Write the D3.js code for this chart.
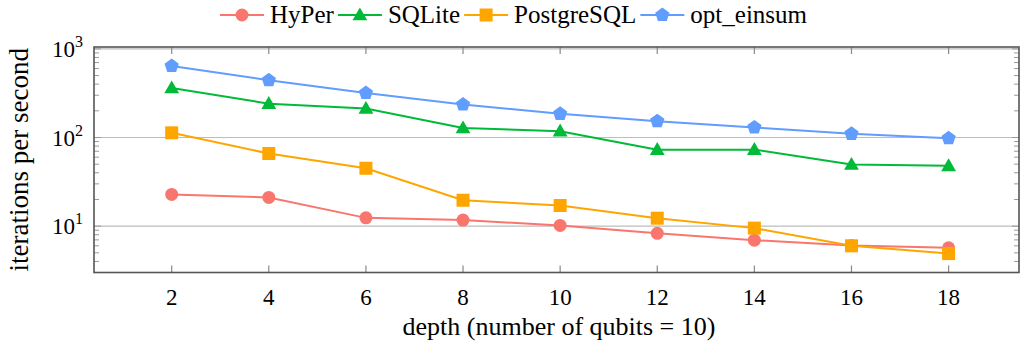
<!DOCTYPE html>
<html><head><meta charset="utf-8">
<script src="https://cdn.jsdelivr.net/npm/d3@7"></script>
<style>body{margin:0;background:#fff}svg text{font-family:"Liberation Serif","DejaVu Serif",serif;fill:#000}</style>
</head><body><svg id="c" width="1028" height="345"></svg>
<script>
const categories = [2, 4, 6, 8, 10, 12, 14, 16, 18];
const seriesNames = ["HyPer", "SQLite", "PostgreSQL", "opt_einsum"];
const hyper = [22.8, 21.1, 12.4, 11.7, 10.2, 8.3, 6.95, 6.05, 5.7];
const sqlite = [362, 241, 212, 128, 118, 73, 73, 49.7, 47.9];
const postgres = [113, 66, 45, 19.6, 17.1, 12.3, 9.5, 6.0, 4.9];
const optEinsum = [641, 443, 318, 236, 185, 153, 130, 110, 98];
const yTickExp = [1, 2, 3];
const xLabel = "depth (number of qubits = 10)";
const yLabel = "iterations per second";

const colors = ["#F8766D", "#00BA38", "#FFA500", "#619CFF"];
const shapes = ["circle", "triangle", "square", "pentagon"];
const allSeries = [hyper, sqlite, postgres, optEinsum];

const svg = d3.select("#c");
const m = {l: 94, r: 1019, t: 47, b: 272.5};
const x = d3.scaleLinear().domain([0.4, 19.45]).range([m.l, m.r]);
const y = d3.scaleLog().domain([3, 1050]).range([m.b, m.t]);

svg.append("g").selectAll("line").data(yTickExp).join("line")
  .attr("x1", m.l).attr("x2", m.r)
  .attr("y1", d => y(Math.pow(10, d))).attr("y2", d => y(Math.pow(10, d)))
  .attr("stroke", "#bdbdbd").attr("stroke-width", 1.2);

const minorU = [];
[1, 10, 100].forEach(b => { for (let k = 2; k <= 9; k++) { const v = b * k; if (v >= 3 && v <= 1050) minorU.push(v); } });
const mg = svg.append("g").attr("stroke", "#9a9a9a").attr("stroke-width", 1);
mg.selectAll("line.l").data(minorU).join("line").attr("class", "l")
  .attr("x1", m.l).attr("x2", m.l + 5).attr("y1", d => y(d)).attr("y2", d => y(d));
mg.selectAll("line.r").data(minorU).join("line").attr("class", "r")
  .attr("x1", m.r - 5).attr("x2", m.r).attr("y1", d => y(d)).attr("y2", d => y(d));
mg.selectAll("line.ml").data(yTickExp).join("line").attr("class", "ml")
  .attr("x1", m.l).attr("x2", m.l + 7).attr("y1", d => y(Math.pow(10, d))).attr("y2", d => y(Math.pow(10, d)));
mg.selectAll("line.mr").data(yTickExp).join("line").attr("class", "mr")
  .attr("x1", m.r - 7).attr("x2", m.r).attr("y1", d => y(Math.pow(10, d))).attr("y2", d => y(Math.pow(10, d)));

const xg = svg.append("g").attr("stroke", "#8a8a8a").attr("stroke-width", 1.2);
xg.selectAll("line.b").data(categories).join("line").attr("class", "b")
  .attr("x1", d => x(d)).attr("x2", d => x(d)).attr("y1", m.b).attr("y2", m.b - 7);
xg.selectAll("line.t").data(categories).join("line").attr("class", "t")
  .attr("x1", d => x(d)).attr("x2", d => x(d)).attr("y1", m.t).attr("y2", m.t + 7);

svg.append("rect").attr("x", m.l).attr("y", m.t).attr("width", m.r - m.l).attr("height", m.b - m.t)
  .attr("fill", "none").attr("stroke", "#555").attr("stroke-width", 1.6);

svg.append("g").selectAll("text").data(categories).join("text")
  .attr("x", d => x(d)).attr("y", 305).attr("text-anchor", "middle")
  .attr("font-size", 23).text(d => d);

const yt = svg.append("g").selectAll("text").data(yTickExp).join("text")
  .attr("x", 83).attr("y", d => y(Math.pow(10, d)) + 8).attr("text-anchor", "end").attr("font-size", 23);
yt.append("tspan").text("10");
yt.append("tspan").attr("dy", -10).attr("font-size", 16).text(d => d);

svg.append("text").attr("x", 559).attr("y", 335).attr("text-anchor", "middle")
  .attr("font-size", 26).text(xLabel);
svg.append("text").attr("transform", `translate(28,${(m.t + m.b) / 2}) rotate(-90)`)
  .attr("text-anchor", "middle").attr("font-size", 27).text(yLabel);

function marker(sel, shape, color) {
  if (shape === "circle") sel.append("circle").attr("r", 6.5).attr("fill", color);
  else if (shape === "square") sel.append("rect").attr("x", -6.5).attr("y", -6.5).attr("width", 13).attr("height", 13).attr("fill", color);
  else if (shape === "triangle") sel.append("path").attr("d", d3.symbol(d3.symbolTriangle, 95)()).attr("fill", color).attr("transform", "translate(0,1)");
  else if (shape === "pentagon") {
    const r = 7.5, pts = d3.range(5).map(i => { const a = -Math.PI / 2 + i * 2 * Math.PI / 5; return [r * Math.cos(a), r * Math.sin(a)]; });
    sel.append("polygon").attr("points", pts.map(p => p.join(",")).join(" ")).attr("fill", color);
  }
}

const line = d3.line().x((d, i) => x(categories[i])).y(d => y(d));
allSeries.forEach((vals, si) => {
  const g = svg.append("g");
  g.append("path").datum(vals).attr("d", line).attr("fill", "none").attr("stroke", colors[si]).attr("stroke-width", 2);
  g.selectAll("g").data(vals).join("g")
    .attr("transform", (d, i) => `translate(${x(categories[i])},${y(d)})`)
    .each(function () { marker(d3.select(this), shapes[si], colors[si]); });
});

const lg = svg.append("g");
let cx = 220;
const ly = 15;
seriesNames.forEach((name, i) => {
  const e = lg.append("g");
  e.append("line").attr("x1", cx).attr("x2", cx + 44).attr("y1", ly).attr("y2", ly).attr("stroke", colors[i]).attr("stroke-width", 2);
  const mk = e.append("g").attr("transform", `translate(${cx + 22},${ly})`);
  marker(mk, shapes[i], colors[i]);
  const t = e.append("text").attr("x", cx + 50).attr("y", ly + 8).attr("font-size", 25).text(name);
  cx += 50 + t.node().getComputedTextLength() + 4;
});
</script></body></html>
